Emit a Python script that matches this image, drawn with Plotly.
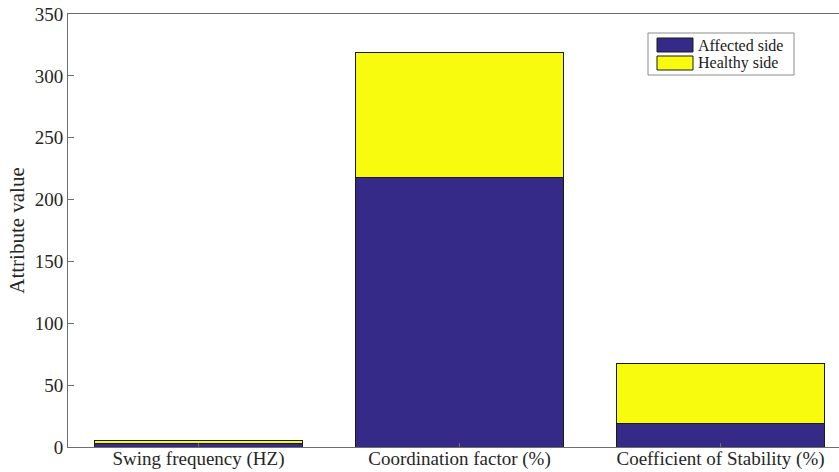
import plotly.graph_objects as go

categories = ["Swing frequency (HZ)", "Coordination factor (%)", "Coefficient of Stability (%)"]
affected = [2.8, 217.5, 19.4]
healthy = [2.8, 101.0, 47.7]
series_names = ["Affected side", "Healthy side"]
colors = ["#352a87", "#f9fb0e"]
y_ticks = [0, 50, 100, 150, 200, 250, 300, 350]

x_pos = [1, 2, 3]
tick_font = dict(family="Liberation Serif", size=19, color="#262626")
label_font = dict(family="Liberation Serif", size=21, color="#262626")

fig = go.Figure()
for name, vals, col in zip(series_names, [affected, healthy], colors):
    fig.add_trace(go.Bar(
        x=x_pos, y=vals, name=name,
        marker=dict(color=col, line=dict(color="#1a1a1a", width=1)),
        showlegend=False,
    ))

fig.update_layout(
    width=839, height=472,
    margin=dict(l=68, r=0, t=14, b=25),
    barmode="stack", bargap=0.2,
    plot_bgcolor="white", paper_bgcolor="white",
    font=tick_font,
)
fig.update_xaxes(
    range=[0.5, 3.454], tickvals=x_pos, ticktext=categories,
    showline=True, linecolor="#6e6e6e", linewidth=1, mirror=True,
    ticks="inside", ticklen=4, tickcolor="#6e6e6e",
    showgrid=False, zeroline=False, tickfont=tick_font, automargin=False,
    ticklabelstandoff=-6,
)
fig.update_yaxes(
    range=[0, 350], tickvals=y_ticks,
    showline=True, linecolor="#6e6e6e", linewidth=1,
    ticks="inside", ticklen=6, tickcolor="#6e6e6e",
    showgrid=False, zeroline=False, tickfont=tick_font, automargin=False,
    title=dict(text="Attribute value", font=label_font, standoff=4),
)

# Legend box drawn in paper coordinates
W, H = 839 - 68, 472 - 14 - 25
def px(x):
    return (x - 68) / W
def py(y):
    return 1 - (y - 14) / H

fig.add_shape(type="rect", xref="paper", yref="paper",
              x0=px(648), x1=px(794), y0=py(75), y1=py(33),
              line=dict(color="#8c8c8c", width=1), fillcolor="white")
rows = [(38, 52), (56, 70)]
for (t, b), name, col in zip(rows, series_names, colors):
    fig.add_shape(type="rect", xref="paper", yref="paper",
                  x0=px(657), x1=px(693), y0=py(b), y1=py(t),
                  line=dict(color="#1a1a1a", width=1), fillcolor=col)
    fig.add_annotation(xref="paper", yref="paper", x=px(696), y=py((t + b) / 2),
                       text=name, showarrow=False, xanchor="left", yanchor="middle",
                       font=dict(family="Liberation Serif", size=16, color="#1a1a1a"))

fig.write_html("out.html")
